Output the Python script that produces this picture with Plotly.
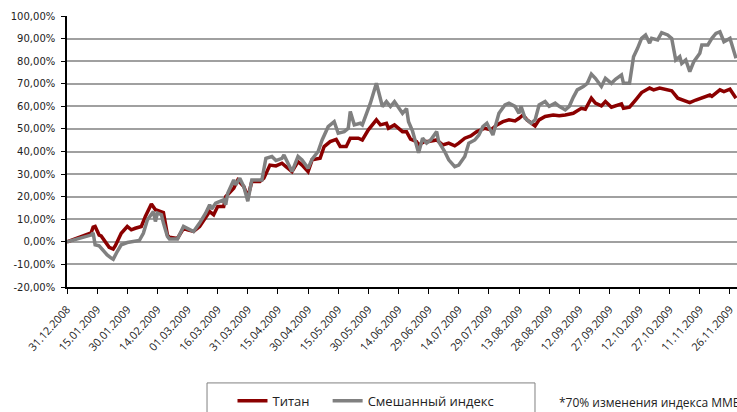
import pandas as pd
import plotly.graph_objects as go

# ---- data (percent change since 31.12.2008) ----
titan_dates = [
    "2008-12-31", "2009-01-12", "2009-01-13", "2009-01-14", "2009-01-16", "2009-01-17",
    "2009-01-21", "2009-01-23", "2009-01-24", "2009-01-27", "2009-01-30", "2009-02-01",
    "2009-02-03", "2009-02-06", "2009-02-08", "2009-02-11", "2009-02-13", "2009-02-15",
    "2009-02-17", "2009-02-19", "2009-02-20", "2009-02-24", "2009-02-27", "2009-03-01",
    "2009-03-04", "2009-03-07", "2009-03-10", "2009-03-12", "2009-03-14", "2009-03-16",
    "2009-03-19", "2009-03-20", "2009-03-24", "2009-03-26", "2009-03-29", "2009-03-31",
    "2009-04-02", "2009-04-06", "2009-04-08", "2009-04-11", "2009-04-14", "2009-04-17",
    "2009-04-19", "2009-04-22", "2009-04-25", "2009-04-27", "2009-04-30", "2009-05-02",
    "2009-05-06", "2009-05-08", "2009-05-11", "2009-05-14", "2009-05-16", "2009-05-19",
    "2009-05-21", "2009-05-25", "2009-05-27", "2009-05-30", "2009-06-03", "2009-06-05",
    "2009-06-08", "2009-06-09", "2009-06-12", "2009-06-14", "2009-06-16", "2009-06-18",
    "2009-06-20", "2009-06-23", "2009-06-24", "2009-06-27", "2009-06-29", "2009-07-03",
    "2009-07-06", "2009-07-09", "2009-07-12", "2009-07-14", "2009-07-17", "2009-07-20",
    "2009-07-23", "2009-07-27", "2009-07-30", "2009-08-02", "2009-08-05", "2009-08-08",
    "2009-08-11", "2009-08-13", "2009-08-15", "2009-08-17", "2009-08-21", "2009-08-23",
    "2009-08-26", "2009-08-30", "2009-09-02", "2009-09-05", "2009-09-09", "2009-09-13",
    "2009-09-15", "2009-09-18", "2009-09-20", "2009-09-23", "2009-09-25", "2009-09-28",
    "2009-09-30", "2009-10-03", "2009-10-04", "2009-10-07", "2009-10-10", "2009-10-13",
    "2009-10-17", "2009-10-19", "2009-10-22", "2009-10-25", "2009-10-28", "2009-10-31",
    "2009-11-02", "2009-11-06", "2009-11-09", "2009-11-12", "2009-11-16", "2009-11-17",
    "2009-11-21", "2009-11-23", "2009-11-26", "2009-11-29",
]
titan = [
    0.0, 4.0, 6.5, 6.8, 3.0, 2.6,
    -2.4, -3.2, -1.8, 3.8, 6.8, 5.3,
    6.0, 6.8, 11.2, 16.8, 14.2, 13.4,
    13.0, 3.0, 2.0, 1.5, 6.0, 5.3,
    4.6, 6.8, 10.5, 13.4, 12.0, 15.6,
    15.6, 20.0, 23.7, 27.4, 24.5, 19.8,
    26.7, 26.7, 28.2, 34.0, 33.6, 34.8,
    33.3, 31.1, 35.5, 34.0, 31.1, 36.3,
    37.0, 42.2, 44.4, 45.4, 42.2, 42.2,
    45.9, 45.9, 45.1, 49.6, 54.0, 51.8,
    52.5, 50.3, 51.8, 50.3, 48.8, 48.8,
    45.5, 44.4, 42.9, 44.4, 44.4, 45.1,
    42.9, 43.7, 42.5, 43.7, 45.9, 46.9,
    48.8, 50.3, 49.6, 51.8, 53.2, 54.0,
    53.5, 54.7, 56.2, 54.0, 51.3, 54.0,
    55.5, 56.2, 55.8, 56.2, 56.9, 59.1,
    58.7, 63.6, 61.4, 60.2, 62.1, 59.6,
    60.2, 61.1, 59.1, 59.6, 62.8, 66.1,
    68.1, 67.3, 68.1, 67.3, 66.9, 63.6,
    62.8, 61.6, 62.8, 63.6, 65.0, 64.4,
    67.3, 66.5, 67.6, 63.6,
]

mix_dates = [
    "2008-12-31", "2009-01-12", "2009-01-13", "2009-01-14", "2009-01-16", "2009-01-20",
    "2009-01-22", "2009-01-23", "2009-01-25", "2009-01-27", "2009-01-30", "2009-02-02",
    "2009-02-05", "2009-02-07", "2009-02-09", "2009-02-12", "2009-02-13", "2009-02-14",
    "2009-02-16", "2009-02-17", "2009-02-19", "2009-02-20", "2009-02-24", "2009-02-27",
    "2009-03-01", "2009-03-04", "2009-03-07", "2009-03-10", "2009-03-12", "2009-03-13",
    "2009-03-15", "2009-03-19", "2009-03-20", "2009-03-21", "2009-03-24", "2009-03-25",
    "2009-03-27", "2009-03-29", "2009-03-31", "2009-04-02", "2009-04-07", "2009-04-09",
    "2009-04-12", "2009-04-14", "2009-04-17", "2009-04-18", "2009-04-20", "2009-04-22",
    "2009-04-25", "2009-04-27", "2009-04-30", "2009-05-02", "2009-05-05", "2009-05-07",
    "2009-05-10", "2009-05-13", "2009-05-15", "2009-05-18", "2009-05-20", "2009-05-21",
    "2009-05-23", "2009-05-26", "2009-05-27", "2009-05-31", "2009-06-03", "2009-06-05",
    "2009-06-06", "2009-06-08", "2009-06-10", "2009-06-12", "2009-06-14", "2009-06-16",
    "2009-06-18", "2009-06-19", "2009-06-21", "2009-06-23", "2009-06-24", "2009-06-26",
    "2009-06-28", "2009-06-30", "2009-07-03", "2009-07-04", "2009-07-07", "2009-07-09",
    "2009-07-12", "2009-07-14", "2009-07-17", "2009-07-19", "2009-07-22", "2009-07-24",
    "2009-07-26", "2009-07-28", "2009-07-31", "2009-08-03", "2009-08-06", "2009-08-08",
    "2009-08-11", "2009-08-13", "2009-08-14", "2009-08-16", "2009-08-19", "2009-08-21",
    "2009-08-23", "2009-08-26", "2009-08-28", "2009-08-31", "2009-09-02", "2009-09-05",
    "2009-09-07", "2009-09-09", "2009-09-11", "2009-09-14", "2009-09-16", "2009-09-18",
    "2009-09-20", "2009-09-23", "2009-09-25", "2009-09-28", "2009-09-30", "2009-10-03",
    "2009-10-04", "2009-10-07", "2009-10-09", "2009-10-11", "2009-10-13", "2009-10-15",
    "2009-10-17", "2009-10-18", "2009-10-21", "2009-10-23", "2009-10-26", "2009-10-28",
    "2009-10-30", "2009-11-01", "2009-11-02", "2009-11-04", "2009-11-06", "2009-11-08",
    "2009-11-11", "2009-11-12", "2009-11-15", "2009-11-17", "2009-11-19", "2009-11-21",
    "2009-11-23", "2009-11-26", "2009-11-27", "2009-11-29",
]
mix = [
    0.0, 3.0, 4.0, -1.3, -1.8, -5.8,
    -7.2, -7.7, -4.3, -1.3, -0.3, 0.1,
    0.6, 3.8, 9.7, 13.4, 9.0, 12.7,
    12.0, 8.3, 2.4, 1.2, 1.2, 6.8,
    5.8, 4.6, 8.3, 12.7, 16.4, 14.5,
    17.1, 18.6, 16.4, 21.5, 27.4, 25.2,
    28.2, 24.5, 18.0, 27.4, 27.4, 37.0,
    37.8, 36.0, 37.0, 38.5, 34.8, 31.1,
    37.8, 36.3, 32.6, 36.6, 40.0, 45.1,
    51.0, 53.2, 48.1, 48.8, 50.3, 57.7,
    51.8, 52.5, 51.8, 61.4, 70.2, 62.8,
    59.9, 62.1, 59.9, 62.1, 59.5, 56.9,
    59.0, 53.2, 49.0, 42.0, 39.4, 45.9,
    43.7, 45.1, 48.8, 44.4, 40.0, 36.3,
    33.3, 34.0, 37.8, 43.7, 45.1, 47.3,
    51.0, 52.5, 47.3, 56.9, 60.6, 61.4,
    60.0, 56.9, 60.0, 54.7, 52.5, 54.0,
    60.6, 62.1, 60.0, 61.4, 60.0, 58.4,
    60.0, 64.0, 67.3, 68.8, 70.2, 74.3,
    72.4, 68.8, 72.4, 70.2, 72.0, 73.9,
    70.2, 70.2, 82.0, 85.7, 90.1, 91.6,
    88.0, 90.1, 89.4, 92.6, 91.6, 90.1,
    80.5, 82.0, 79.0, 80.5, 75.4, 79.8,
    83.5, 87.2, 87.2, 90.1, 92.3, 93.0,
    88.6, 90.1, 87.2, 81.3,
]

series_names = ["Титан", "Смешанный индекс"]
y_tick_vals = [-20, -10, 0, 10, 20, 30, 40, 50, 60, 70, 80, 90, 100]
y_tick_labels = ["-20,00%", "-10,00%", "0,00%", "10,00%", "20,00%", "30,00%", "40,00%",
                 "50,00%", "60,00%", "70,00%", "80,00%", "90,00%", "100,00%"]
x_tick_dates = pd.date_range("2008-12-31", periods=23, freq="15D")
footnote = "*70% изменения индекса ММВБ"

fig = go.Figure()
fig.add_trace(go.Scatter(x=pd.to_datetime(titan_dates), y=titan, mode="lines",
                         name=series_names[0], legend="legend",
                         line=dict(color="#8b0000", width=3.5)))
fig.add_trace(go.Scatter(x=pd.to_datetime(mix_dates), y=mix, mode="lines",
                         name=series_names[1], legend="legend2",
                         line=dict(color="#808080", width=3.5)))

legend_style = dict(orientation="h", xanchor="left", yanchor="top",
                    font=dict(family="Open Sans", size=13, color="#222"),
                    bgcolor="rgba(0,0,0,0)", borderwidth=0)

fig.update_layout(
    width=737, height=412,
    margin=dict(l=67, r=0, t=16, b=125, autoexpand=False),
    paper_bgcolor="white", plot_bgcolor="white",
    showlegend=True,
    legend=dict(x=0.247, y=-0.365, **legend_style),
    legend2=dict(x=0.389, y=-0.365, **legend_style),
    font=dict(family="DejaVu Sans", color="#222"),
)

fig.update_xaxes(
    range=["2008-12-31", "2009-11-29 12:00"],
    tickvals=x_tick_dates, tickformat="%d.%m.%Y", tickangle=-48,
    tickfont=dict(family="Open Sans", size=11, color="#222"),
    ticks="outside", ticklen=5, tickcolor="black", ticklabelstandoff=5,
    showline=True, linecolor="black", linewidth=1.5,
    showgrid=False, zeroline=False, automargin=False,
)
fig.update_yaxes(
    range=[-20, 100],
    tickvals=y_tick_vals, ticktext=y_tick_labels,
    tickfont=dict(family="DejaVu Sans", size=10, color="#222"),
    ticks="outside", ticklen=4, tickcolor="black", ticklabelstandoff=4,
    showline=True, linecolor="black", linewidth=1.5,
    showgrid=True, gridcolor="#a0a0a0", gridwidth=2,
    zeroline=False, automargin=False,
)

# legend frame (bottom edge falls outside the picture, as in the reference)
fig.add_shape(type="rect", xref="paper", yref="paper",
              x0=0.209, x1=0.6985, y0=-0.354, y1=-0.52,
              line=dict(color="#808080", width=1), fillcolor="rgba(0,0,0,0)")

fig.add_annotation(text=footnote, xref="paper", yref="paper", x=0.731, y=-0.428,
                   xanchor="left", yanchor="middle", showarrow=False,
                   font=dict(family="Open Sans", size=12, color="#222"))

fig.write_html("out.html", config={"displayModeBar": False},
               post_script="document.body.style.margin='0';")
